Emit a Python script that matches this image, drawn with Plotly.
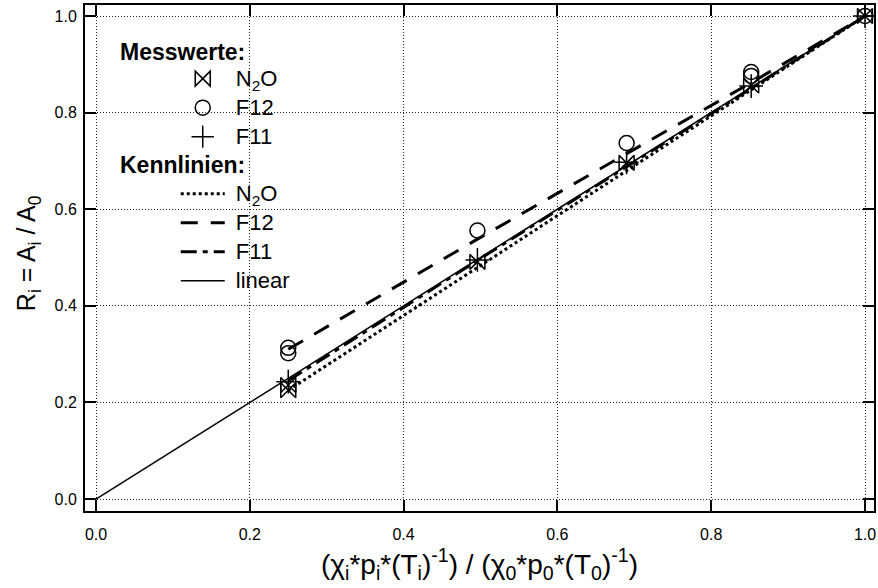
import plotly.graph_objects as go

# --- data ---
x_mess = [0.25, 0.25, 0.496, 0.69, 0.852, 1.0]
n2o_y = [0.225, 0.236, 0.491, 0.696, 0.856, 1.0]
f12_x = [0.25, 0.25, 0.496, 0.69, 0.852, 0.852, 1.0]
f12_y = [0.302, 0.313, 0.556, 0.737, 0.876, 0.884, 1.0]
f11_x = [0.25, 0.496, 0.69, 0.852, 1.0]
f11_y = [0.243, 0.495, 0.697, 0.855, 1.0]

x_fit = [0.25, 0.496, 0.69, 0.852, 1.0]
n2o_fit = [0.225, 0.479, 0.680, 0.846, 1.0]
f12_fit = [0.310, 0.538, 0.715, 0.862, 1.0]
f11_fit = [0.245, 0.494, 0.688, 0.850, 1.0]
x_lin = [0.0, 1.0]
y_lin = [0.0, 1.0]

x_ticks = [0.0, 0.2, 0.4, 0.6, 0.8, 1.0]
y_ticks = [0.0, 0.2, 0.4, 0.6, 0.8, 1.0]

FONT = "Liberation Sans, Arial, sans-serif"
LEG = "<span style='font-size:22px'>&nbsp;%s</span>"

fig = go.Figure()

# fitted lines (Kennlinien)
fig.add_trace(go.Scatter(x=x_fit, y=n2o_fit, mode="lines", name=LEG % "N<sub>2</sub>O",
                         legendgroup="kenn", legendrank=10,
                         line=dict(color="black", width=3, dash="dot")))
fig.add_trace(go.Scatter(x=x_fit, y=f12_fit, mode="lines", name=LEG % "F12",
                         legendgroup="kenn", legendrank=11,
                         line=dict(color="black", width=3, dash="17px,13px")))
fig.add_trace(go.Scatter(x=x_fit, y=f11_fit, mode="lines", name=LEG % "F11",
                         legendgroup="kenn", legendrank=12,
                         line=dict(color="black", width=3, dash="16px,6px,5px,6px")))
fig.add_trace(go.Scatter(x=x_lin, y=y_lin, mode="lines", name=LEG % "linear",
                         legendgroup="kenn", legendrank=13,
                         line=dict(color="black", width=1.5)))

# measurements (Messwerte)
fig.add_trace(go.Scatter(x=x_mess, y=n2o_y, mode="markers", name=LEG % "N<sub>2</sub>O",
                         legendgroup="mess", legendrank=1,
                         marker=dict(symbol="bowtie-open", size=15, color="black",
                                     line=dict(width=1.5, color="black"))))
fig.add_trace(go.Scatter(x=f12_x, y=f12_y, mode="markers", name=LEG % "F12",
                         legendgroup="mess", legendrank=2,
                         marker=dict(symbol="circle-open", size=15, color="black",
                                     line=dict(width=1.5, color="black"))))
fig.add_trace(go.Scatter(x=f11_x, y=f11_y, mode="markers", name=LEG % "F11",
                         legendgroup="mess", legendrank=3,
                         marker=dict(symbol="cross-thin-open", size=17, color="black",
                                     line=dict(width=1.5, color="black"))))

axis_common = dict(
    showline=True, linecolor="black", linewidth=2, mirror="ticks",
    ticks="inside", ticklen=11, tickwidth=1.5, tickcolor="black",
    showgrid=True, gridcolor="#222222", gridwidth=1, griddash="1px,2px",
    zeroline=False, tickformat=".1f",
    tickfont=dict(family=FONT, size=16, color="black"),
)

fig.update_xaxes(range=[-0.0143, 1.0117], tickvals=x_ticks, ticklabelstandoff=8, **axis_common,
                 title=dict(text="(χ<sub>i</sub>*p<sub>i</sub>*(T<sub>i</sub>)<sup>-1</sup>) / "
                                 "(χ<sub>0</sub>*p<sub>0</sub>*(T<sub>0</sub>)<sup>-1</sup>)",
                            font=dict(family=FONT, size=28, color="black"), standoff=12))
fig.update_yaxes(range=[-0.0248, 1.0228], tickvals=y_ticks, ticklabelstandoff=3, **axis_common)

fig.update_layout(
    width=878, height=588,
    margin=dict(l=85, r=2, t=5, b=77),
    paper_bgcolor="white", plot_bgcolor="white",
    font=dict(family=FONT, color="black"),
    showlegend=True,
    legend=dict(x=0.115, y=0.893, xanchor="left", yanchor="top",
                bgcolor="rgba(255,255,255,0)", borderwidth=0,
                traceorder="grouped", tracegroupgap=28, itemwidth=44,
                font=dict(family=FONT, size=20, color="black")),
    annotations=[
        dict(text="<b>Messwerte:</b>", xref="paper", yref="paper", x=0.0417, y=0.907,
             xanchor="left", yanchor="middle", showarrow=False,
             font=dict(family=FONT, size=23, color="black")),
        dict(text="<b>Kennlinien:</b>", xref="paper", yref="paper", x=0.0417, y=0.684,
             xanchor="left", yanchor="middle", showarrow=False,
             font=dict(family=FONT, size=23, color="black")),
        dict(text="R<sub>i</sub> = A<sub>i</sub> / A<sub>0</sub>", xref="paper", yref="paper",
             x=-0.072, y=0.51, xanchor="center", yanchor="middle", textangle=-90,
             showarrow=False, font=dict(family=FONT, size=25, color="black")),
    ],
)

fig.write_html("out.html")
